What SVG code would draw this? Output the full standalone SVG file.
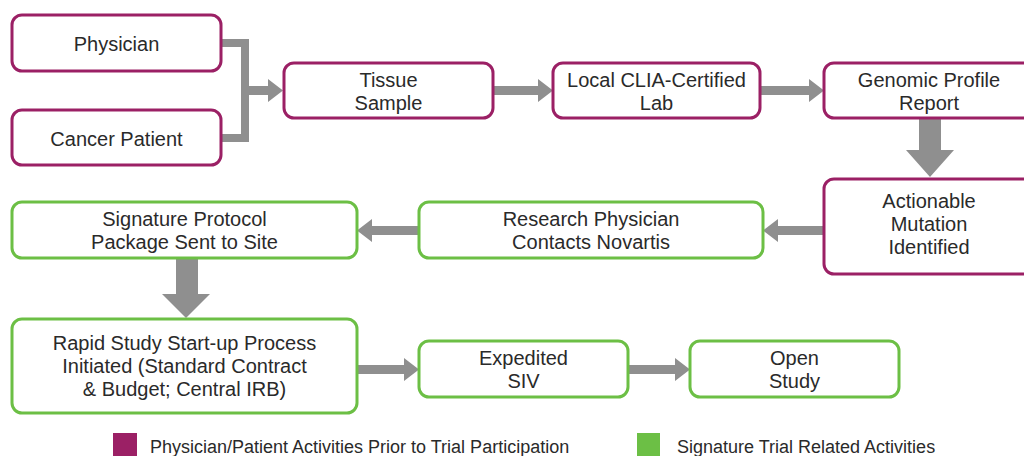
<svg xmlns="http://www.w3.org/2000/svg" width="1024" height="456" viewBox="0 0 1024 456">
<defs>
<style>
.p{fill:#fff;stroke:#9b2065;stroke-width:3}
.g{fill:#fff;stroke:#6cbf45;stroke-width:3}
.t{font-family:"Liberation Sans",Arial,sans-serif;font-size:20px;fill:#2a2a2a;text-anchor:middle}
.l{font-family:"Liberation Sans",Arial,sans-serif;font-size:18px;fill:#2a2a2a}
.c{fill:#8f8f8f}
.cl{fill:none;stroke:#8f8f8f;stroke-width:8}
</style>
</defs>
<rect width="1024" height="456" fill="#fff"/>
<g id="connectors">
<path class="cl" d="M221 43 H245 V138 H221"/>
<path class="c" d="M245 86 H268 V79 L283 90.5 L268 102 V95 H245 Z"/>
<path class="c" d="M493 86 H538 V79 L553 90.5 L538 102 V95 H493 Z"/>
<path class="c" d="M760 86 H809 V79 L824 90.5 L809 102 V95 H760 Z"/>
<path class="c" d="M919 118 H941 V150 H954 L930 177 L906 150 H919 Z"/>
<path class="c" d="M824 226 H778 V219 L763 230.5 L778 242 V235 H824 Z"/>
<path class="c" d="M419 226 H372 V219 L357 230.5 L372 242 V235 H419 Z"/>
<path class="c" d="M176 258 H198 V294 H210 L186 318 L162 294 H176 Z"/>
<path class="c" d="M357 365 H404 V358 L419 369.5 L404 381 V374 H357 Z"/>
<path class="c" d="M628 365 H675 V358 L690 369.5 L675 381 V374 H628 Z"/>
</g>
<g id="physician"><rect class="p" x="12" y="15" width="209" height="56" rx="10"/><text class="t" x="116.5" y="51">Physician</text></g>
<g id="cancer-patient"><rect class="p" x="12" y="110" width="209" height="55" rx="10"/><text class="t" x="116.5" y="146">Cancer Patient</text></g>
<g id="tissue-sample"><rect class="p" x="284" y="63" width="209" height="55" rx="10"/><text class="t" x="388.5" y="87">Tissue</text><text class="t" x="388.5" y="110">Sample</text></g>
<g id="clia-lab"><rect class="p" x="553" y="63" width="207" height="55" rx="10"/><text class="t" x="656.5" y="87">Local CLIA-Certified</text><text class="t" x="656.5" y="110">Lab</text></g>
<g id="genomic-report"><rect class="p" x="824" y="63" width="215" height="55" rx="10"/><text class="t" x="929" y="87">Genomic Profile</text><text class="t" x="929" y="110">Report</text></g>
<g id="actionable-mutation"><rect class="p" x="824" y="179" width="215" height="95" rx="10"/><text class="t" x="929" y="208">Actionable</text><text class="t" x="929" y="231">Mutation</text><text class="t" x="929" y="254">Identified</text></g>
<g id="research-physician"><rect class="g" x="419" y="202" width="344" height="56" rx="10"/><text class="t" x="591" y="226">Research Physician</text><text class="t" x="591" y="249">Contacts Novartis</text></g>
<g id="signature-protocol"><rect class="g" x="12" y="202" width="345" height="56" rx="10"/><text class="t" x="184.5" y="226">Signature Protocol</text><text class="t" x="184.5" y="249">Package Sent to Site</text></g>
<g id="rapid-startup"><rect class="g" x="12" y="319" width="345" height="94" rx="10"/><text class="t" x="184.5" y="350">Rapid Study Start-up Process</text><text class="t" x="184.5" y="373">Initiated (Standard Contract</text><text class="t" x="184.5" y="396">&amp; Budget; Central IRB)</text></g>
<g id="expedited-siv"><rect class="g" x="419" y="341" width="209" height="56" rx="10"/><text class="t" x="523.5" y="365">Expedited</text><text class="t" x="523.5" y="388">SIV</text></g>
<g id="open-study"><rect class="g" x="690" y="341" width="209" height="56" rx="10"/><text class="t" x="794.5" y="365">Open</text><text class="t" x="794.5" y="388">Study</text></g>
<g id="legend">
<rect x="113" y="433" width="24" height="23" fill="#9b2065"/>
<text class="l" x="150" y="453">Physician/Patient Activities Prior to Trial Participation</text>
<rect x="637" y="433" width="23" height="23" fill="#6cbf45"/>
<text class="l" x="677" y="453">Signature Trial Related Activities</text>
</g>
</svg>
